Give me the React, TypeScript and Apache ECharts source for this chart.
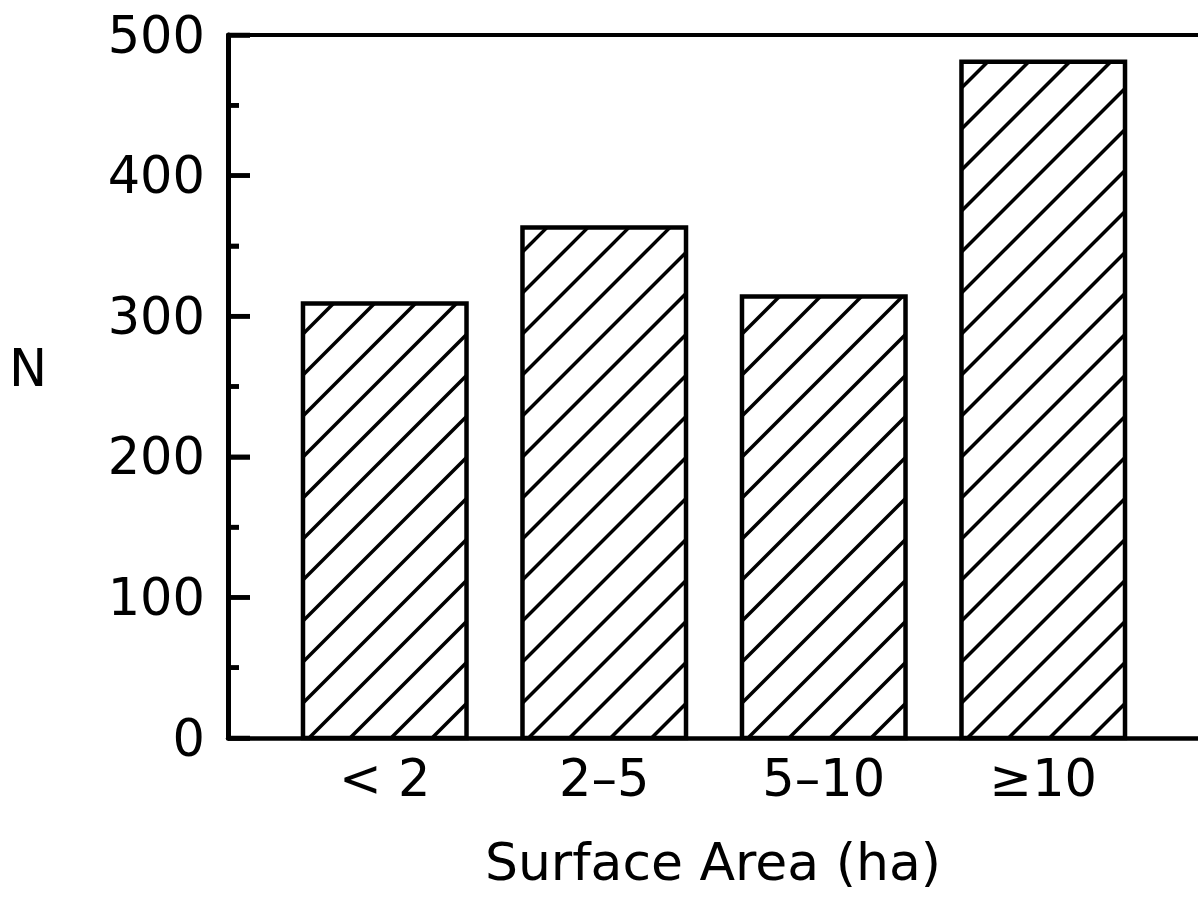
import React, { useEffect, useRef } from "react";
import * as echarts from "echarts";

const categories = ["< 2", "2–5", "5–10", "≥10"];
const counts = [309, 363, 314, 481];
const yMin = 0;
const yMax = 500;
const yStep = 100;
const majorTicks = [0, 100, 200, 300, 400, 500];
const minorTicks = [50, 150, 250, 350, 450];
const yTitle = "N";
const xTitle = "Surface Area (ha)";

const FONT = "DejaVu Sans";

export default function App() {
  const ref = useRef<HTMLDivElement>(null);
  useEffect(() => {
    if (!ref.current) return;
    const chart = echarts.init(ref.current, undefined, { renderer: "svg" });
    const S = 41;
    const renderItem = (params: any, api: any) => {
      const idx = api.value(0);
      const val = api.value(1);
      const top = api.coord([idx, val]);
      const bot = api.coord([idx, 0]);
      const bw = api.size([1, 0])[0] * 0.745;
      const x0 = top[0] - bw / 2;
      const x1 = top[0] + bw / 2;
      const y0 = top[1];
      const y1 = bot[1];
      const children: any[] = [
        {
          type: "rect",
          shape: { x: x0, y: y0, width: x1 - x0, height: y1 - y0 },
          style: { fill: "#fff", stroke: "none" },
        },
      ];
      const base = x0 + y1 + 6;
      const kMin = Math.ceil((x0 + y0 - base) / S);
      const kMax = Math.floor((x1 + y1 - base) / S);
      for (let k = kMin; k <= kMax; k++) {
        const c = base + k * S;
        const xs = Math.max(x0, c - y1);
        const xe = Math.min(x1, c - y0);
        if (xe - xs > 0.5) {
          children.push({
            type: "line",
            shape: { x1: xs, y1: c - xs, x2: xe, y2: c - xe },
            style: { stroke: "#000", lineWidth: 3.5 },
          });
        }
      }
      children.push({
        type: "rect",
        shape: { x: x0, y: y0, width: x1 - x0, height: y1 - y0 },
        style: { fill: "none", stroke: "#000", lineWidth: 4.5 },
      });
      return { type: "group", children };
    };
    const tickRender = (len: number) => (params: any, api: any) => {
      const p = api.coord([0, api.value(0)]);
      return {
        type: "rect",
        shape: { x: p[0], y: p[1] - 2.25, width: len, height: 4.5 },
        style: { fill: "#000", stroke: "none" },
      };
    };
    chart.setOption({
      animation: false,
      backgroundColor: "#fff",
      grid: [
        { left: 228, right: 0, top: 35, bottom: 161 },
        { left: 275, right: 45, top: 35, bottom: 161 },
      ],
      xAxis: [
        {
          gridIndex: 0,
          type: "value",
          min: 0,
          max: 1,
          position: "bottom",
          axisLine: { show: true, onZero: false, lineStyle: { color: "#000", width: 4.5 } },
          axisTick: { show: false },
          axisLabel: { show: false },
          splitLine: { show: false },
        },
        {
          gridIndex: 0,
          type: "value",
          min: 0,
          max: 1,
          position: "top",
          axisLine: { show: true, onZero: false, lineStyle: { color: "#000", width: 4 } },
          axisTick: { show: false },
          axisLabel: { show: false },
          splitLine: { show: false },
        },
        {
          gridIndex: 1,
          type: "category",
          data: categories,
          position: "bottom",
          axisLine: { show: false },
          axisTick: { show: false },
          axisLabel: {
            color: "#000",
            fontSize: 51,
            fontFamily: FONT,
            margin: 15,
          },
          splitLine: { show: false },
        },
      ],
      yAxis: [
        {
          gridIndex: 0,
          type: "value",
          min: yMin,
          max: yMax,
          interval: yStep,
          axisLine: { show: true, onZero: false, lineStyle: { color: "#000", width: 5 } },
          axisTick: { show: true, inside: true, length: 22, lineStyle: { color: "#000", width: 4.5 } },
          minorTick: { show: true, splitNumber: 2, length: 11, lineStyle: { color: "#000", width: 4.5 } },
          axisLabel: { color: "#000", fontSize: 51, fontFamily: FONT, margin: 23 },
          splitLine: { show: false },
        },
        {
          gridIndex: 1,
          type: "value",
          min: yMin,
          max: yMax,
          axisLine: { show: false },
          axisTick: { show: false },
          axisLabel: { show: false },
          splitLine: { show: false },
        },
      ],
      graphic: [
        {
          type: "text",
          x: 28,
          y: 368,
          style: {
            text: yTitle,
            font: `51px "${FONT}"`,
            fill: "#000",
            align: "center",
            verticalAlign: "middle",
          },
        },
        {
          type: "text",
          x: 713,
          y: 862,
          style: {
            text: xTitle,
            font: `52px "${FONT}"`,
            fill: "#000",
            align: "center",
            verticalAlign: "middle",
          },
        },
      ],
      series: [
        {
          type: "custom",
          xAxisIndex: 2,
          yAxisIndex: 1,
          data: counts.map((v, i) => [i, v]),
          encode: { x: 0, y: 1 },
          renderItem,
          clip: false,
        },
        {
          type: "custom",
          xAxisIndex: 0,
          yAxisIndex: 0,
          z: 100,
          data: majorTicks.map((v) => [v]),
          encode: { y: 0 },
          renderItem: tickRender(22),
          clip: false,
          silent: true,
        },
        {
          type: "custom",
          xAxisIndex: 0,
          yAxisIndex: 0,
          z: 100,
          data: minorTicks.map((v) => [v]),
          encode: { y: 0 },
          renderItem: tickRender(11),
          clip: false,
          silent: true,
        },
      ],
    });
    return () => chart.dispose();
  }, []);
  return (
    <div
      ref={ref}
      style={{ position: "fixed", left: 0, top: 0, width: 1198, height: 899, background: "#fff" }}
    />
  );
}
